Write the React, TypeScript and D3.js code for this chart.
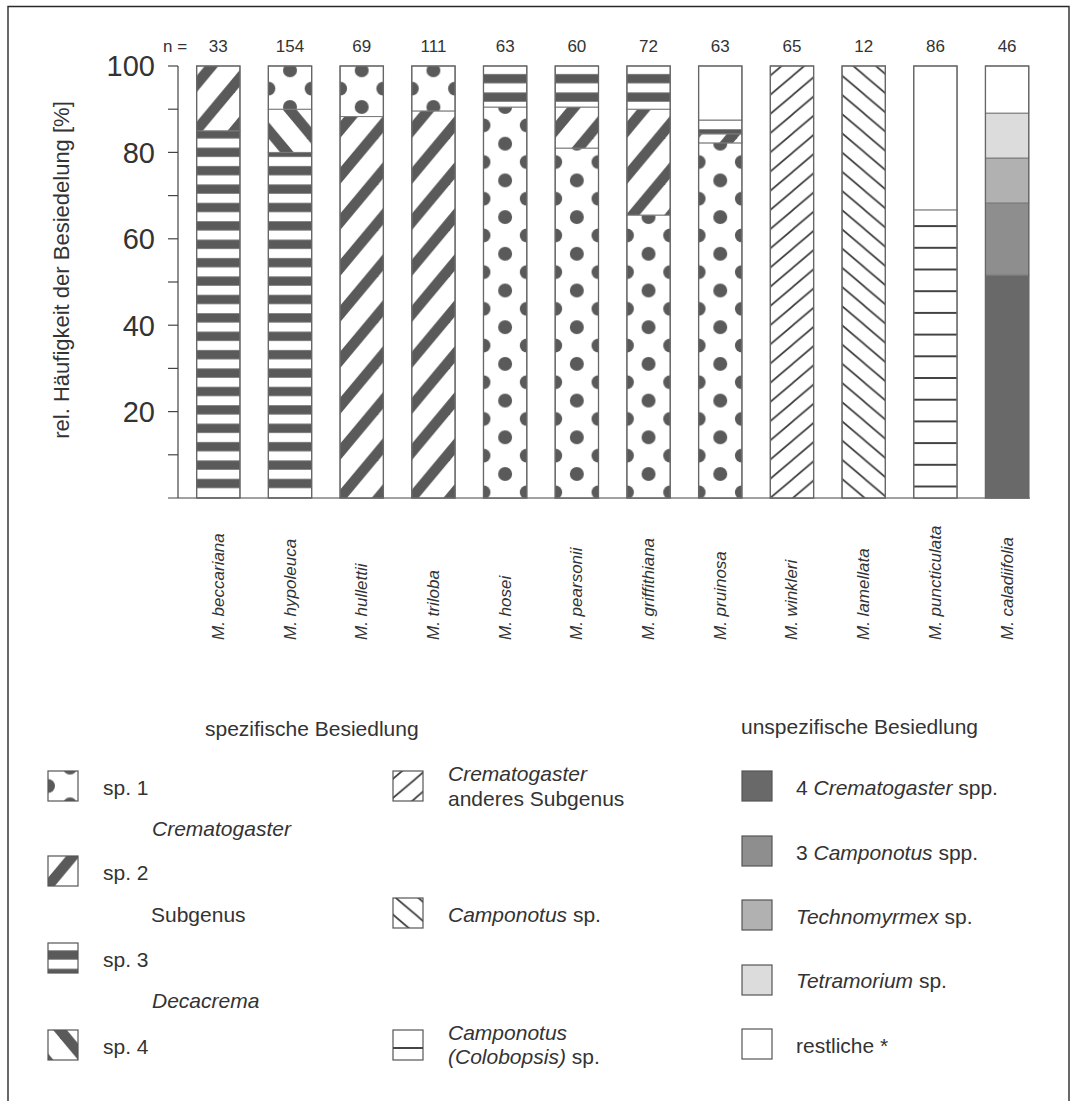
import React from "react";
import * as d3 from "d3";

const species = [
  "M. beccariana", "M. hypoleuca", "M. hullettii", "M. triloba", "M. hosei", "M. pearsonii",
  "M. griffithiana", "M. pruinosa", "M. winkleri", "M. lamellata", "M. puncticulata", "M. caladiifolia",
];
const sampleSizes = [33, 154, 69, 111, 63, 60, 72, 63, 65, 12, 86, 46];
const yMajorTicks = [20, 40, 60, 80, 100];
const yMinorTicks = [10, 30, 50, 70, 90];

// shares (%) per colonising taxon, one value per Macaranga species
const sp1 = [0, 10, 11.7, 10.4, 90.5, 81, 65.5, 82.2, 0, 0, 0, 0];
const sp2 = [15, 0, 88.3, 89.6, 0, 9.5, 24.5, 2.1, 0, 0, 0, 0];
const sp3 = [85, 80, 0, 0, 9.5, 9.5, 10, 3.2, 0, 0, 0, 0];
const sp4 = [0, 10, 0, 0, 0, 0, 0, 0, 0, 0, 0, 0];
const cremAnderes = [0, 0, 0, 0, 0, 0, 0, 0, 100, 0, 0, 0];
const camponotusSp = [0, 0, 0, 0, 0, 0, 0, 0, 0, 100, 0, 0];
const colobopsis = [0, 0, 0, 0, 0, 0, 0, 0, 0, 0, 66.7, 0];
const cremSpp = [0, 0, 0, 0, 0, 0, 0, 0, 0, 0, 0, 51.6];
const campSpp = [0, 0, 0, 0, 0, 0, 0, 0, 0, 0, 0, 16.7];
const technomyrmex = [0, 0, 0, 0, 0, 0, 0, 0, 0, 0, 0, 10.4];
const tetramorium = [0, 0, 0, 0, 0, 0, 0, 0, 0, 0, 0, 10.4];
const restliche = [0, 0, 0, 0, 0, 0, 0, 12.5, 0, 0, 33.3, 10.9];

const orderDecacremaA = ["sp3", "sp4", "sp2", "sp1"];
const orderDecacremaB = ["sp1", "sp2", "sp3", "rest"];
const orderOther = ["crAnd", "camp", "colob", "cremSpp", "campSpp", "techno", "tetra", "rest"];
const stackOrder = [
  orderDecacremaA, orderDecacremaA, orderDecacremaA, orderDecacremaA,
  orderDecacremaB, orderDecacremaB, orderDecacremaB, orderDecacremaB,
  orderOther, orderOther, orderOther, orderOther,
];

const values: Record<string, number[]> = {
  sp1, sp2, sp3, sp4, crAnd: cremAnderes, camp: camponotusSp, colob: colobopsis,
  cremSpp, campSpp, techno: technomyrmex, tetra: tetramorium, rest: restliche,
};

const solidColors: Record<string, string> = {
  cremSpp: "#696969",
  campSpp: "#8e8e8e",
  techno: "#b1b1b1",
  tetra: "#dcdcdc",
  rest: "#ffffff",
};

const FONT = "'Liberation Sans', Arial, Helvetica, sans-serif";
const DARK = "#5a5a5a";
const TXT = "#333";

function PatternDef({ id, kind, x0, y0, w }: { id: string; kind: string; x0: number; y0: number; w?: number }) {
  if (kind === "sp1") {
    const W = w || 44;
    const H = 36.7;
    const r = 7;
    return (
      <pattern id={id} patternUnits="userSpaceOnUse" x={x0} y={y0} width={W} height={H}>
        <rect width={W} height={H} fill="#fff" />
        <circle cx={W / 2} cy={0} r={r} fill={DARK} />
        <circle cx={W / 2} cy={H} r={r} fill={DARK} />
        <circle cx={0} cy={H / 2} r={r} fill={DARK} />
        <circle cx={W} cy={H / 2} r={r} fill={DARK} />
      </pattern>
    );
  }
  if (kind === "sp2" || kind === "sp4" || kind === "crAnd" || kind === "camp") {
    const thick = kind === "sp2" || kind === "sp4";
    const h = thick ? 46 : 19.2;
    const ww = thick ? h / 1.2 : h / 0.85;
    const sw = thick ? 10.5 : 1.7;
    const col = thick ? DARK : "#3c3c3c";
    const up = kind === "sp2" || kind === "crAnd";
    const lines = [-1, 0, 1, 2, 3].map((c) =>
      up
        ? { x1: -ww, y1: h * (c + 1), x2: 2 * ww, y2: h * (c - 2) }
        : { x1: -ww, y1: h * (-1 - c), x2: 2 * ww, y2: h * (2 - c) }
    );
    return (
      <pattern id={id} patternUnits="userSpaceOnUse" x={x0} y={y0} width={ww} height={h}>
        <rect width={ww} height={h} fill="#fff" />
        {lines.map((l, k) => (
          <line key={k} {...l} stroke={col} strokeWidth={sw} />
        ))}
      </pattern>
    );
  }
  if (kind === "sp3") {
    const H = 18.4;
    const t = 4.6;
    return (
      <pattern id={id} patternUnits="userSpaceOnUse" x={x0} y={y0} width={10} height={H}>
        <rect width={10} height={H} fill="#fff" />
        <rect x={0} y={0} width={10} height={t} fill={DARK} />
        <rect x={0} y={H - t} width={10} height={t} fill={DARK} />
      </pattern>
    );
  }
  if (kind === "colob") {
    const H = 21.7;
    const t = 0.95;
    return (
      <pattern id={id} patternUnits="userSpaceOnUse" x={x0} y={y0} width={10} height={H}>
        <rect width={10} height={H} fill="#fff" />
        <rect x={0} y={0} width={10} height={t} fill="#3c3c3c" />
        <rect x={0} y={H - t} width={10} height={t} fill="#3c3c3c" />
      </pattern>
    );
  }
  return null;
}

const patternKinds = ["sp1", "sp2", "sp3", "sp4", "crAnd", "camp", "colob"];

export default function App() {
  const width = 1073;
  const height = 1101;
  const x = d3.scaleBand<string>().domain(species).range([178, 1047.4]).paddingInner(0.396).paddingOuter(0.26);
  const y = d3.scaleLinear().domain([0, 100]).range([498, 66]);
  const bw = x.bandwidth();
  const base = y(0);

  const barPatternAnchor = (kind: string, left: number) => {
    if (kind === "sp1") return { x0: left, y0: base - 24 };
    if (kind === "sp3") return { x0: left, y0: base - 14.5 };
    if (kind === "colob") return { x0: left, y0: base - 11.5 };
    return { x0: left, y0: base };
  };

  const defs: React.ReactNode[] = [];
  species.forEach((s, i) => {
    const left = x(s) as number;
    patternKinds.forEach((k) => {
      if (values[k][i] > 0) {
        const a = barPatternAnchor(k, left);
        defs.push(<PatternDef key={`p-${k}-${i}`} id={`p-${k}-${i}`} kind={k} x0={a.x0} y0={a.y0} w={bw} />);
      }
    });
  });

  const legLeft = [
    { kind: "sp1", sx: 48, sy: 771, label: "sp. 1" },
    { kind: "sp2", sx: 48, sy: 856, label: "sp. 2" },
    { kind: "sp3", sx: 48, sy: 943, label: "sp. 3" },
    { kind: "sp4", sx: 48, sy: 1030, label: "sp. 4" },
  ];
  const legAnchor = (kind: string, sx: number, sy: number) => {
    switch (kind) {
      case "sp1": return { x0: sx, y0: sy + 15 - 18.35 };
      case "sp2": return { x0: sx, y0: sy + 30 };
      case "sp3": return { x0: sx, y0: sy + 12 };
      case "sp4": return { x0: sx + 12, y0: sy };
      case "crAnd": return { x0: sx, y0: sy + 27 };
      case "camp": return { x0: sx + 3, y0: sy };
      case "colob": return { x0: sx, y0: sy + 18 };
    }
    return { x0: sx, y0: sy };
  };
  const legMid = [
    { kind: "crAnd", sx: 393, sy: 771 },
    { kind: "camp", sx: 393, sy: 898 },
    { kind: "colob", sx: 393, sy: 1030 },
  ];
  [...legLeft, ...legMid].forEach((l) => {
    const a = legAnchor(l.kind, l.sx, l.sy);
    defs.push(<PatternDef key={`l-${l.kind}`} id={`l-${l.kind}`} kind={l.kind} x0={a.x0} y0={a.y0} w={44} />);
  });

  const legRight = [
    { key: "cremSpp", sy: 771 },
    { key: "campSpp", sy: 836 },
    { key: "techno", sy: 900 },
    { key: "tetra", sy: 965 },
    { key: "rest", sy: 1029 },
  ];

  const legFont = 21;

  return (
    <svg width={width} height={height} style={{ position: "absolute", left: 0, top: 0, display: "block", background: "#fff" }} fontFamily={FONT}>
      <defs>{defs}</defs>
      <rect width={width} height={height} fill="#fff" />
      <path d={`M8,${height} L8,6.5 L1069,6.5 L1069,${height}`} fill="none" stroke="#2a2a2a" strokeWidth={1.4} />

      <line x1={178} x2={178} y1={y(100)} y2={base} stroke="#444" strokeWidth={1.2} />
      <line x1={168} x2={1030} y1={base} y2={base} stroke="#444" strokeWidth={1.2} />
      {[...yMajorTicks, ...yMinorTicks].map((t) => (
        <line key={`t${t}`} x1={168} x2={178} y1={y(t)} y2={y(t)} stroke="#444" strokeWidth={1.2} />
      ))}
      {yMajorTicks.map((t) => (
        <text key={`l${t}`} x={155} y={y(t)} dy="0.36em" textAnchor="end" fontSize={29} fill={TXT}>
          {t}
        </text>
      ))}
      <text transform={`translate(69,270) rotate(-90)`} textAnchor="middle" fontSize={22} fill={TXT}>
        rel. Häufigkeit der Besiedelung [%]
      </text>

      <text x={163} y={52} fontSize={17} fill={TXT}>n =</text>
      {species.map((s, i) => (
        <text key={`n${i}`} x={(x(s) as number) + bw / 2} y={52} textAnchor="middle" fontSize={17} fill={TXT}>
          {sampleSizes[i]}
        </text>
      ))}

      {species.map((s, i) => {
        const left = x(s) as number;
        let acc = 0;
        const segs = stackOrder[i]
          .filter((k) => values[k][i] > 0)
          .map((k) => {
            const v0 = acc;
            acc += values[k][i];
            const fill = solidColors[k] ? solidColors[k] : `url(#p-${k}-${i})`;
            return (
              <rect key={k} x={left} y={y(acc)} width={bw} height={y(v0) - y(acc)} fill={fill} stroke="#7a7a7a" strokeWidth={1} />
            );
          });
        return (
          <g key={s}>
            {segs}
            <rect x={left} y={y(100)} width={bw} height={base - y(100)} fill="none" stroke="#666" strokeWidth={1.3} />
          </g>
        );
      })}

      {species.map((s) => (
        <text key={`x${s}`} transform={`translate(${(x(s) as number) + bw / 2 + 5.5},640) rotate(-90)`} fontSize={17} fontStyle="italic" fill={TXT}>
          {s}
        </text>
      ))}

      <text x={205} y={736} fontSize={legFont} fill={TXT}>spezifische Besiedlung</text>
      <text x={741} y={734} fontSize={legFont} fill={TXT}>unspezifische Besiedlung</text>

      {legLeft.map((l) => (
        <g key={l.kind}>
          <rect x={l.sx} y={l.sy} width={30} height={30} fill={`url(#l-${l.kind})`} stroke="#555" strokeWidth={1.2} />
          <text x={103} y={l.sy + 24} fontSize={legFont} fill={TXT}>{l.label}</text>
        </g>
      ))}
      <text x={152} y={836} fontSize={legFont} fontStyle="italic" fill={TXT}>Crematogaster</text>
      <text x={151} y={922} fontSize={legFont} fill={TXT}>Subgenus</text>
      <text x={152} y={1008} fontSize={legFont} fontStyle="italic" fill={TXT}>Decacrema</text>

      {legMid.map((l) => (
        <rect key={l.kind} x={l.sx} y={l.sy} width={30} height={30} fill={`url(#l-${l.kind})`} stroke="#555" strokeWidth={1.2} />
      ))}
      <text x={448} y={781} fontSize={legFont} fontStyle="italic" fill={TXT}>Crematogaster</text>
      <text x={448} y={806} fontSize={legFont} fill={TXT}>anderes Subgenus</text>
      <text x={448} y={922} fontSize={legFont} fill={TXT}>
        <tspan fontStyle="italic">Camponotus</tspan> sp.
      </text>
      <text x={448} y={1040} fontSize={legFont} fontStyle="italic" fill={TXT}>Camponotus</text>
      <text x={448} y={1064} fontSize={legFont} fill={TXT}>
        <tspan fontStyle="italic">(Colobopsis)</tspan> sp.
      </text>

      {legRight.map((l) => (
        <rect key={l.key} x={742} y={l.sy} width={30} height={30} fill={solidColors[l.key]} stroke="#555" strokeWidth={1.2} />
      ))}
      <text x={796} y={795} fontSize={legFont} fill={TXT}>
        4 <tspan fontStyle="italic">Crematogaster</tspan> spp.
      </text>
      <text x={796} y={860} fontSize={legFont} fill={TXT}>
        3 <tspan fontStyle="italic">Camponotus</tspan> spp.
      </text>
      <text x={796} y={924} fontSize={legFont} fill={TXT}>
        <tspan fontStyle="italic">Technomyrmex</tspan> sp.
      </text>
      <text x={796} y={988} fontSize={legFont} fill={TXT}>
        <tspan fontStyle="italic">Tetramorium</tspan> sp.
      </text>
      <text x={796} y={1053} fontSize={legFont} fill={TXT}>restliche *</text>
    </svg>
  );
}
